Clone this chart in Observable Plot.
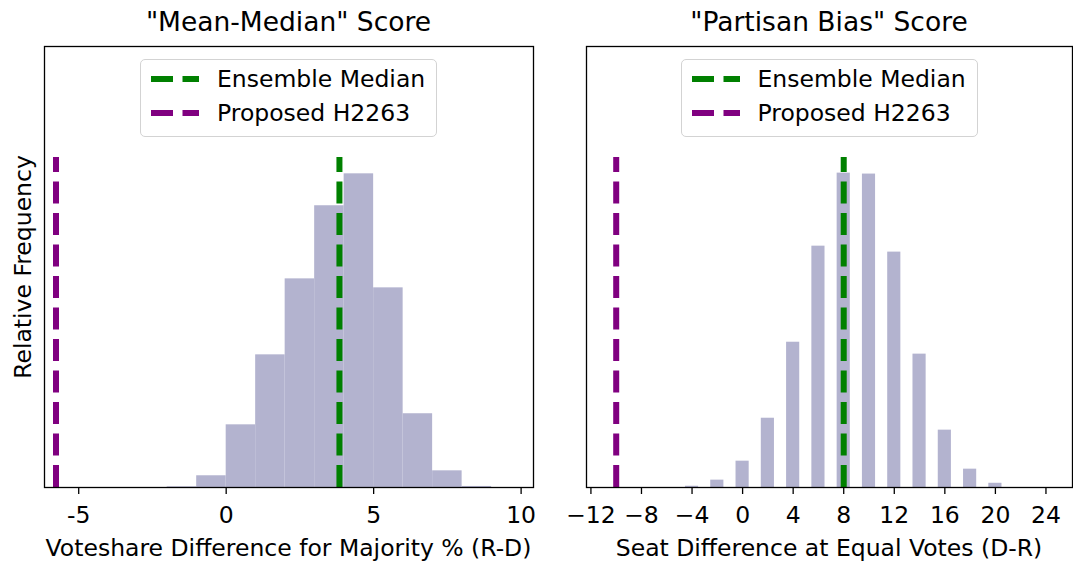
<!DOCTYPE html>
<html>
<head>
<meta charset="utf-8">
<script src="https://cdn.jsdelivr.net/npm/d3@7"></script>
<script src="https://cdn.jsdelivr.net/npm/@observablehq/plot@0.6"></script>
<style>
  body { margin: 0; background: white; }
  #wrap { position: relative; width: 1073px; height: 565px; font-family: "DejaVu Sans", sans-serif; color: black; overflow: hidden; }
  .abs { position: absolute; white-space: nowrap; }
  .title { font-size: 26.5px; transform: translate(-50%, -50%); }
  .xlabel { font-size: 23.5px; transform: translate(-50%, -50%); }
  .ylabel { font-size: 23.5px; transform: translate(-50%, -50%) rotate(-90deg); }
  .legend { border: 1.3px solid #d3d3d3; border-radius: 5px; background: rgba(255,255,255,0.8); box-sizing: border-box; }
  .legend .row { position: absolute; left: 0; height: 30px; display: flex; align-items: center; font-size: 23.5px; }
</style>
</head>
<body>
<div id="wrap"></div>
<script>
// ---- Data: "Mean-Median" score histogram (bin width 1) ----
const mmBinStart = [-2, -1, 0, 1, 2, 3, 4, 5, 6, 7, 8];
const mmFreq = [0.0005, 0.0090, 0.0481, 0.1018, 0.1601, 0.2162, 0.2407, 0.1532, 0.0566, 0.0128, 0.0008];
const mmMedian = 3.84;
const mmProposed = -5.77;
const mmTicks = [-5, 0, 5, 10];

// ---- Data: "Partisan Bias" score histogram (even seat differences) ----
const pbValues = [-4, -2, 0, 2, 4, 6, 8, 10, 12, 14, 16, 18, 20];
const pbFreq = [0.0008, 0.0047, 0.0168, 0.0442, 0.0927, 0.1540, 0.2006, 0.2000, 0.1502, 0.0851, 0.0366, 0.0117, 0.0027];
const pbMedian = 8;
const pbProposed = -10;
const pbTicks = [-12, -8, -4, 0, 4, 8, 12, 16, 20, 24];

const titles = ['"Mean-Median" Score', '"Partisan Bias" Score'];
const xLabels = ["Voteshare Difference for Majority % (R-D)", "Seat Difference at Equal Votes (D-R)"];
const yLabel = "Relative Frequency";
const legendLabels = ["Ensemble Median", "Proposed H2263"];
const legendColors = ["green", "purple"];

// ---- Build tables ----
const mmData = mmBinStart.map((b, i) => ({x1: b, x2: b + 1, freq: mmFreq[i]}));
const pbData = pbValues.map((v, i) => ({x1: v - 0.52, x2: v + 0.52, freq: pbFreq[i]}));

const barColor = "#b3b3cf";
const dash = "22,9.5";
const wrap = document.getElementById("wrap");

function panel({data, median, proposed, ticks, tickFormat, xDomain, yTop, lineTop, width, marginLeft, marginRight}) {
  return Plot.plot({
    width, height: 565,
    marginLeft, marginRight, marginTop: 46, marginBottom: 78,
    x: {domain: xDomain},
    y: {domain: [0, yTop], axis: null},
    style: {fontFamily: "DejaVu Sans", color: "black", background: "transparent", overflow: "visible"},
    marks: [
      Plot.rectY(data, {x1: "x1", x2: "x2", y: "freq", fill: barColor}),
      Plot.ruleX([median], {x: d => d, y1: 0, y2: lineTop, stroke: "green", strokeWidth: 6, strokeDasharray: dash}),
      Plot.ruleX([proposed], {x: d => d, y1: 0, y2: lineTop, stroke: "purple", strokeWidth: 6, strokeDasharray: dash}),
      Plot.frame({stroke: "black", strokeWidth: 1.3}),
      Plot.axisX({ticks, tickFormat, tickSize: 7, tickPadding: 12, fontSize: 23.5, label: null, strokeWidth: 1.3})
    ]
  });
}

const p1 = panel({
  data: mmData, median: mmMedian, proposed: mmProposed, ticks: mmTicks,
  tickFormat: d => String(d), xDomain: [-6.16, 10.42],
  yTop: 0.3384, lineTop: 0.2532, width: 540, marginLeft: 44, marginRight: 7
});
const p2 = panel({
  data: pbData, median: pbMedian, proposed: pbProposed, ticks: pbTicks,
  tickFormat: d => d3.format("d")(d).replace("-", "\u2212"), xDomain: [-12.35, 26.1],
  yTop: 0.2814, lineTop: 0.2106, width: 533, marginLeft: 46, marginRight: 1
});
p1.style.position = "absolute"; p1.style.left = "0px"; p1.style.top = "0px";
p2.style.position = "absolute"; p2.style.left = "540px"; p2.style.top = "0px";
wrap.appendChild(p1);
wrap.appendChild(p2);

function addText(cls, text, x, y) {
  const d = document.createElement("div");
  d.className = "abs " + cls;
  d.textContent = text;
  d.style.left = x + "px";
  d.style.top = y + "px";
  wrap.appendChild(d);
}
const centers = [288.5, 829];
addText("title", titles[0], centers[0], 21);
addText("title", titles[1], centers[1], 21);
addText("xlabel", xLabels[0], centers[0], 548);
addText("xlabel", xLabels[1], centers[1], 548);
addText("ylabel", yLabel, 23, 267);

function addLegend(cx) {
  const box = document.createElement("div");
  box.className = "abs legend";
  const w = 297, h = 78;
  box.style.left = (cx - w / 2) + "px";
  box.style.top = "59px";
  box.style.width = w + "px";
  box.style.height = h + "px";
  legendLabels.forEach((lab, i) => {
    const row = document.createElement("div");
    row.className = "row";
    row.style.top = (4 + i * 34) + "px";
    const svg = document.createElementNS("http://www.w3.org/2000/svg", "svg");
    svg.setAttribute("width", 76);
    svg.setAttribute("height", 30);
    const ln = document.createElementNS("http://www.w3.org/2000/svg", "line");
    ln.setAttribute("x1", 10); ln.setAttribute("x2", 58);
    ln.setAttribute("y1", 15); ln.setAttribute("y2", 15);
    ln.setAttribute("stroke", legendColors[i]);
    ln.setAttribute("stroke-width", 6);
    ln.setAttribute("stroke-dasharray", "22,9.5");
    svg.appendChild(ln);
    row.appendChild(svg);
    const t = document.createElement("span");
    t.textContent = lab;
    row.appendChild(t);
    box.appendChild(row);
  });
  wrap.appendChild(box);
}
addLegend(centers[0]);
addLegend(centers[1]);
</script>
</body>
</html>
